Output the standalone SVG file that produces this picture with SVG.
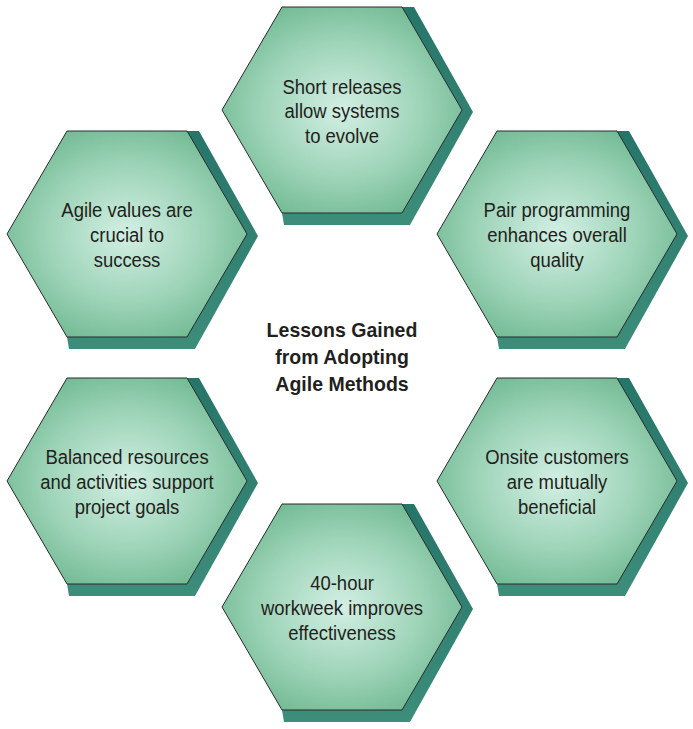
<svg xmlns="http://www.w3.org/2000/svg" width="693" height="729" viewBox="0 0 693 729">
<style>
.hex{fill:url(#hexFill);stroke:#2b2b2b;stroke-width:1}
.shadow{fill:url(#shadowFill)}
.lbl{font-family:"Liberation Sans",Arial,sans-serif;font-size:21px;fill:#231f20;text-anchor:middle}
.title{font-family:"Liberation Sans",Arial,sans-serif;font-size:21px;font-weight:bold;fill:#231f20;text-anchor:middle}
</style>
<defs>
<radialGradient id="hexFill" cx="0.5" cy="0.5" r="0.6">
<stop offset="0" stop-color="#d2efe4"/>
<stop offset="0.55" stop-color="#9ed4b8"/>
<stop offset="1" stop-color="#6bb68e"/>
</radialGradient>
<linearGradient id="shadowFill" x1="0" y1="0" x2="0" y2="1">
<stop offset="0" stop-color="#267569"/>
<stop offset="1" stop-color="#3d8d7b"/>
</linearGradient>
<path id="hexShape" d="M-120,0 L-60,-103 L60,-103 L120,0 L60,103 L-60,103 Z"/>
<path id="hexShadow" d="M60,-103 L72,-103 L131,2 L68,115 L-58,115 L-60,103 Z"/>
</defs>
<g id="connectors"/>
<g id="node-top" transform="translate(342,110)">
<use href="#hexShadow" class="shadow"/>
<use href="#hexShape" class="hex"/>
<g transform="scale(0.88,1)">
<text class="lbl" y="-16">Short releases</text>
<text class="lbl" y="8">allow systems</text>
<text class="lbl" y="33">to evolve</text>
</g>
</g>
<g id="node-topleft" transform="translate(127,234)">
<use href="#hexShadow" class="shadow"/>
<use href="#hexShape" class="hex"/>
<g transform="scale(0.88,1)">
<text class="lbl" y="-17">Agile values are</text>
<text class="lbl" y="8">crucial to</text>
<text class="lbl" y="33">success</text>
</g>
</g>
<g id="node-topright" transform="translate(557,234)">
<use href="#hexShadow" class="shadow"/>
<use href="#hexShape" class="hex"/>
<g transform="scale(0.88,1)">
<text class="lbl" y="-17">Pair programming</text>
<text class="lbl" y="8">enhances overall</text>
<text class="lbl" y="33">quality</text>
</g>
</g>
<g id="node-bottomleft" transform="translate(127,481)">
<use href="#hexShadow" class="shadow"/>
<use href="#hexShape" class="hex"/>
<g transform="scale(0.88,1)">
<text class="lbl" y="-17">Balanced resources</text>
<text class="lbl" y="8">and activities support</text>
<text class="lbl" y="33">project goals</text>
</g>
</g>
<g id="node-bottomright" transform="translate(557,481)">
<use href="#hexShadow" class="shadow"/>
<use href="#hexShape" class="hex"/>
<g transform="scale(0.88,1)">
<text class="lbl" y="-17">Onsite customers</text>
<text class="lbl" y="8">are mutually</text>
<text class="lbl" y="33">beneficial</text>
</g>
</g>
<g id="node-bottom" transform="translate(342,607)">
<use href="#hexShadow" class="shadow"/>
<use href="#hexShape" class="hex"/>
<g transform="scale(0.88,1)">
<text class="lbl" y="-17">40-hour</text>
<text class="lbl" y="8">workweek improves</text>
<text class="lbl" y="33">effectiveness</text>
</g>
</g>
<g id="title" transform="translate(342,0) scale(0.93,1)">
<text class="title" x="0" y="337">Lessons Gained</text>
<text class="title" x="0" y="364">from Adopting</text>
<text class="title" x="0" y="391">Agile Methods</text>
</g>
</svg>
